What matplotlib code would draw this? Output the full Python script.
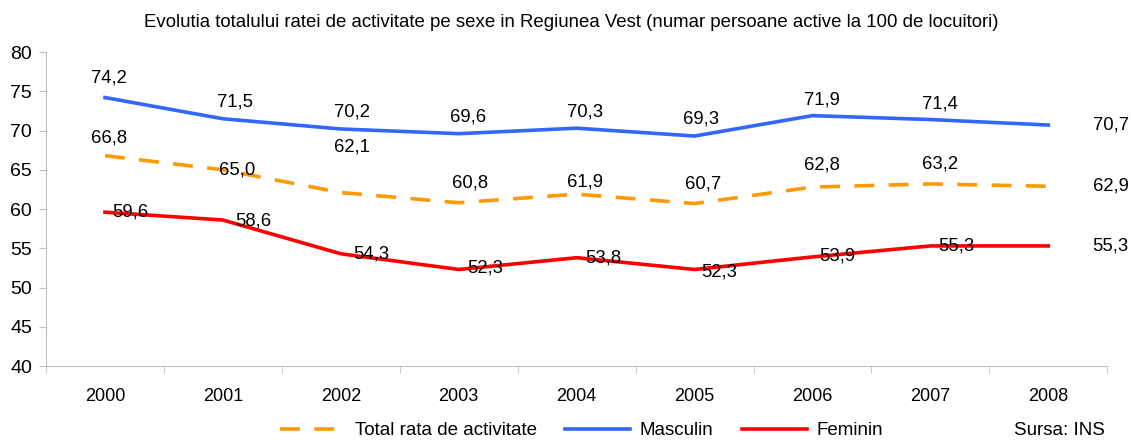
import matplotlib.pyplot as plt
from matplotlib.ticker import FixedLocator

plt.rcParams['font.family'] = ['Liberation Sans', 'DejaVu Sans']

years = ['2000', '2001', '2002', '2003', '2004', '2005', '2006', '2007', '2008']
total = [66.8, 65.0, 62.1, 60.8, 61.9, 60.7, 62.8, 63.2, 62.9]
masculin = [74.2, 71.5, 70.2, 69.6, 70.3, 69.3, 71.9, 71.4, 70.7]
feminin = [59.6, 58.6, 54.3, 52.3, 53.8, 52.3, 53.9, 55.3, 55.3]

# label offsets (points) for each series
off_total = [(3, 13), (10, 0), (8, 33), (8, 14), (6, 9), (6, 14), (7, 16), (7, 14), (45, 0)]
off_masc = [(3, 14), (9, 12), (8, 12), (7, 12), (6, 12), (5, 12), (7, 11), (7, 11), (45, 0)]
off_fem = [(18, 0), (22, -1), (22, 0), (19, 1), (19, 0), (18, -2), (18, 1), (19, 0), (45, 0)]

fig = plt.figure(figsize=(11.31, 4.41), dpi=100)
ax = fig.add_axes([0.0407, 0.170, 0.9383, 0.712])

x = range(len(years))
l_tot, = ax.plot(x, total, color='#FF9900', lw=2.6, dashes=(5.5, 4),
                 label='Total rata de activitate')
l_masc, = ax.plot(x, masculin, color='#3366FF', lw=2.6, label='Masculin')
l_fem, = ax.plot(x, feminin, color='#FF0000', lw=2.6, label='Feminin')

for vals, offs in [(total, off_total), (masculin, off_masc), (feminin, off_fem)]:
    for i, (v, o) in enumerate(zip(vals, offs)):
        ax.annotate(f'{v:.1f}'.replace('.', ','), (i, v), xytext=o,
                    textcoords='offset points', ha='center', va='center',
                    fontsize=13.3)

ax.set_xlim(-0.5, 8.5)
ax.set_ylim(40, 80)
ax.set_yticks(range(40, 81, 5))
ax.set_xticks(list(x))
ax.set_xticklabels(years)
ax.xaxis.set_minor_locator(FixedLocator([i + 0.5 for i in range(-1, 9)]))
ax.tick_params(axis='x', which='major', length=0, pad=16, labelsize=13)
ax.tick_params(axis='x', which='minor', length=5, color='#BFBFBF')
ax.tick_params(axis='y', length=5, color='#BFBFBF', labelsize=14, pad=5)

for s in ['top', 'right']:
    ax.spines[s].set_visible(False)
for s in ['left', 'bottom']:
    ax.spines[s].set_color('#BFBFBF')

fig.text(0.505, 0.948, 'Evolutia totalului ratei de activitate pe sexe in Regiunea Vest '
         '(numar persoane active la 100 de locuitori)', ha='center', va='center',
         fontsize=13.4)

fig.legend(handles=[l_tot, l_masc, l_fem], loc='center', bbox_to_anchor=(0.514, 0.023),
           ncol=3, frameon=False, fontsize=13.5, handlelength=3.5, handletextpad=0.5,
           columnspacing=1.5)
fig.text(0.977, 0.023, 'Sursa: INS', ha='right', va='center', fontsize=13.5)

fig.savefig('out.png', dpi=100)
